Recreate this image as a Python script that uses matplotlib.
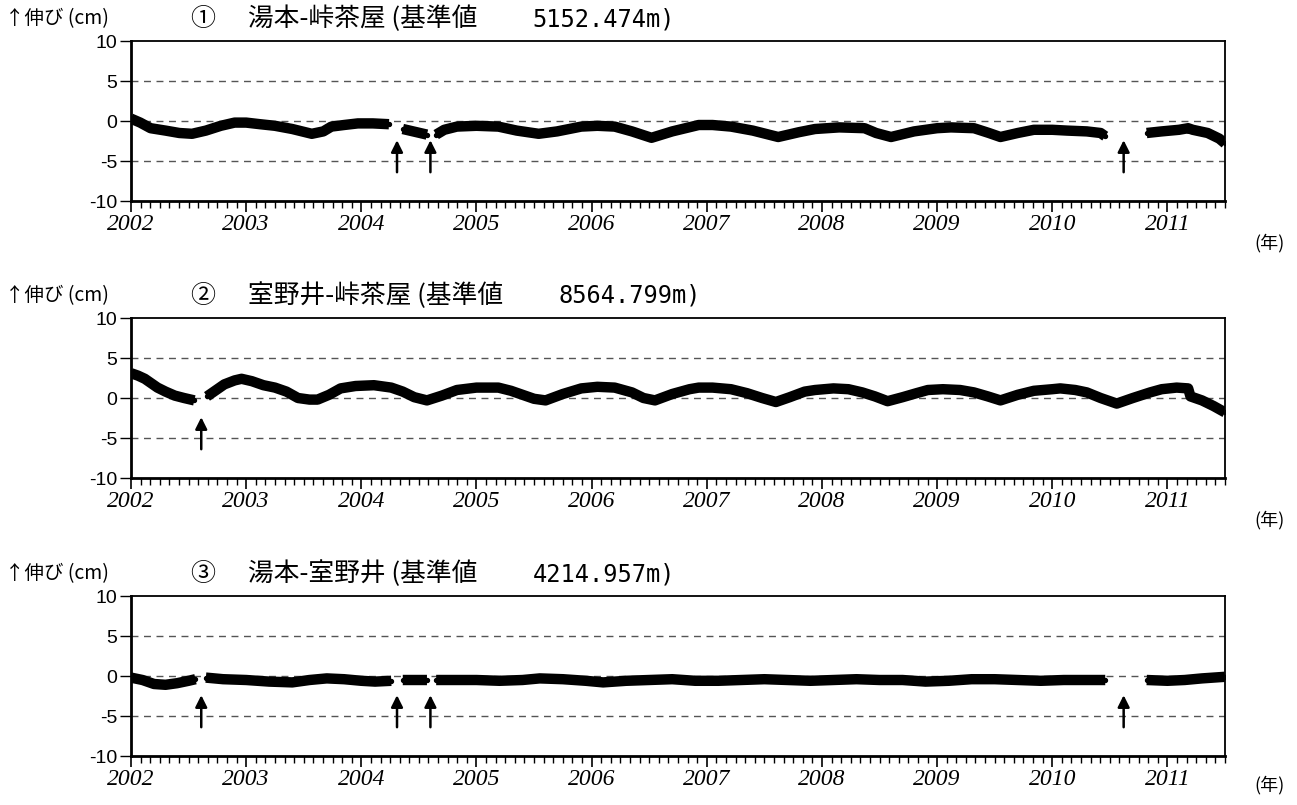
import numpy as np
import matplotlib
matplotlib.use("Agg")
import matplotlib.pyplot as plt
from matplotlib.ticker import MultipleLocator, FixedLocator

nan = np.nan

title_nums = ["①", "②", "③"]
title_names = ["湯本-峠茶屋 (基準値", "室野井-峠茶屋 (基準値", "湯本-室野井 (基準値"]
title_vals = ["5152.474m)", "8564.799m)", "4214.957m)"]
ylabel = "↑伸び (cm)"
xunit = "(年)"
year_ticks = list(range(2002, 2012))
y_ticks = [10, 5, 0, -5, -10]

t1 = [2002.00, 2002.08, 2002.17, 2002.30, 2002.42, 2002.53, 2002.65, 2002.78, 2002.90, 2003.00,
      2003.12, 2003.25, 2003.40, 2003.57, 2003.67, 2003.74, 2003.85, 2003.97, 2004.10, 2004.24,
      2004.30, 2004.36, 2004.45, 2004.57, 2004.61, 2004.65, 2004.72, 2004.83, 2005.00, 2005.19,
      2005.35, 2005.54, 2005.70, 2005.91, 2006.05, 2006.20, 2006.35, 2006.52, 2006.70, 2006.93,
      2007.05, 2007.21, 2007.40, 2007.62, 2007.80, 2007.94, 2008.15, 2008.37, 2008.47, 2008.60,
      2008.80, 2009.00, 2009.12, 2009.32, 2009.45, 2009.55, 2009.70, 2009.84, 2010.00, 2010.13,
      2010.30, 2010.42, 2010.46, 2010.60, 2010.82, 2010.95, 2011.10, 2011.18, 2011.22, 2011.35,
      2011.45, 2011.50]
v1 = [0.3, -0.2, -0.9, -1.2, -1.5, -1.6, -1.2, -0.6, -0.2, -0.2,
      -0.4, -0.6, -1.0, -1.6, -1.3, -0.7, -0.5, -0.3, -0.3, -0.4,
      nan, -1.0, -1.3, -1.7, nan, -1.7, -1.1, -0.7, -0.6, -0.7,
      -1.2, -1.6, -1.3, -0.7, -0.6, -0.7, -1.3, -2.1, -1.3, -0.5,
      -0.5, -0.7, -1.2, -2.0, -1.4, -1.0, -0.8, -0.9, -1.5, -2.0,
      -1.3, -0.9, -0.8, -0.9, -1.5, -2.0, -1.5, -1.1, -1.1, -1.2,
      -1.3, -1.5, -1.9, nan, -1.5, -1.3, -1.1, -0.9, -1.1, -1.5,
      -2.2, -2.8]

t2 = [2002.00, 2002.06, 2002.12, 2002.23, 2002.30, 2002.38, 2002.46, 2002.55, 2002.60, 2002.66,
      2002.72, 2002.81, 2002.90, 2002.96, 2003.05, 2003.15, 2003.25, 2003.35, 2003.45, 2003.55,
      2003.62, 2003.72, 2003.82, 2003.95, 2004.11, 2004.26, 2004.36, 2004.46, 2004.57, 2004.70,
      2004.83, 2005.00, 2005.19, 2005.30, 2005.40, 2005.50, 2005.60, 2005.75, 2005.91, 2006.05,
      2006.20, 2006.35, 2006.45, 2006.55, 2006.70, 2006.85, 2006.93, 2007.05, 2007.21, 2007.35,
      2007.48, 2007.60, 2007.72, 2007.85, 2007.94, 2008.10, 2008.23, 2008.35, 2008.46, 2008.57,
      2008.70, 2008.82, 2008.92, 2009.05, 2009.20, 2009.32, 2009.44, 2009.55, 2009.70, 2009.84,
      2010.00, 2010.07, 2010.20, 2010.30, 2010.42, 2010.56, 2010.70, 2010.85, 2010.95, 2011.08,
      2011.18, 2011.20, 2011.30, 2011.40, 2011.50]
v2 = [3.1, 2.8, 2.4, 1.3, 0.8, 0.3, 0.0, -0.3, nan, 0.2,
      0.8, 1.7, 2.2, 2.4, 2.1, 1.6, 1.3, 0.8, 0.0, -0.2,
      -0.2, 0.4, 1.2, 1.5, 1.6, 1.3, 0.8, 0.1, -0.3, 0.3,
      1.0, 1.3, 1.3, 0.9, 0.4, -0.1, -0.3, 0.5, 1.2, 1.4,
      1.3, 0.7, 0.0, -0.3, 0.5, 1.1, 1.3, 1.3, 1.1, 0.6,
      0.0, -0.5, 0.1, 0.8, 1.0, 1.2, 1.1, 0.7, 0.2, -0.4,
      0.1, 0.6, 1.0, 1.1, 1.0, 0.7, 0.2, -0.3, 0.4, 0.9,
      1.1, 1.2, 1.0, 0.7, 0.0, -0.7, 0.0, 0.7, 1.1, 1.3,
      1.2, 0.2, -0.3, -1.0, -1.8]

t3 = [2002.00, 2002.10, 2002.20, 2002.30, 2002.40, 2002.50, 2002.56, 2002.60, 2002.65, 2002.80,
      2003.00, 2003.20, 2003.40, 2003.55, 2003.70, 2003.85, 2004.00, 2004.12, 2004.26, 2004.30,
      2004.36, 2004.57, 2004.61, 2004.65, 2004.85, 2005.00, 2005.20, 2005.40, 2005.55, 2005.75,
      2005.95, 2006.10, 2006.30, 2006.50, 2006.70, 2006.90, 2007.10, 2007.30, 2007.50, 2007.70,
      2007.90, 2008.10, 2008.30, 2008.50, 2008.70, 2008.90, 2009.10, 2009.30, 2009.50, 2009.70,
      2009.90, 2010.10, 2010.30, 2010.46, 2010.60, 2010.82, 2011.00, 2011.15, 2011.30, 2011.50]
v3 = [-0.2, -0.5, -1.0, -1.1, -0.9, -0.6, -0.4, nan, -0.2, -0.4,
      -0.5, -0.7, -0.8, -0.5, -0.3, -0.4, -0.6, -0.7, -0.6, nan,
      -0.5, -0.5, nan, -0.5, -0.5, -0.5, -0.6, -0.5, -0.3, -0.4,
      -0.6, -0.8, -0.6, -0.5, -0.4, -0.6, -0.6, -0.5, -0.4, -0.5,
      -0.6, -0.5, -0.4, -0.5, -0.5, -0.7, -0.6, -0.4, -0.4, -0.5,
      -0.6, -0.5, -0.5, -0.5, nan, -0.5, -0.6, -0.5, -0.3, -0.1]

arrows1 = [2004.31, 2004.60, 2010.62]
arrows2 = [2002.61]
arrows3 = [2002.61, 2004.31, 2004.60, 2010.62]

series = [(t1, v1, arrows1), (t2, v2, arrows2), (t3, v3, arrows3)]

cjk = ['Noto Sans CJK JP', 'DejaVu Sans']

fig = plt.figure(figsize=(12.97, 8.05), dpi=100)
W, H = 1297, 805
left, right = 131, 1225
tops = [41, 318, 596]
unit_y = [243, 520, 785]
ph = 160
renderer = fig.canvas.get_renderer()

for i, (t, v, arr) in enumerate(series):
    top = tops[i]
    ax = fig.add_axes([left / W, 1 - (top + ph) / H, (right - left) / W, ph / H])
    ax.set_xlim(2002.0, 2011.5)
    ax.set_ylim(-10, 10)
    for yy in [5, 0, -5]:
        ax.axhline(yy, color='#555555', lw=1.0, ls=(0, (5, 4)), zorder=1)
    ax.plot(t, v, color='black', lw=7.5, solid_capstyle='butt', zorder=3)
    ax.scatter(t, v, s=8, color='black', zorder=3)
    for a in arr:
        ax.annotate('', xy=(a, -2.4), xytext=(a, -6.4),
                    arrowprops=dict(arrowstyle='-|>,head_length=0.7,head_width=0.35',
                                    color='black', lw=1.8, shrinkA=0, shrinkB=0),
                    zorder=4)
    ax.set_yticks(y_ticks)
    ax.set_yticklabels([str(y) for y in y_ticks], fontsize=14, family='Liberation Sans')
    ax.xaxis.set_major_locator(FixedLocator(year_ticks))
    ax.xaxis.set_minor_locator(MultipleLocator(1 / 12))
    ax.set_xticklabels([str(y) for y in year_ticks], fontsize=17,
                       family='Liberation Serif', style='italic')
    ax.tick_params(axis='x', which='major', length=8, width=1.2, direction='out', pad=1)
    ax.tick_params(axis='x', which='minor', length=5, width=1.0, direction='out')
    ax.tick_params(axis='y', length=8, width=1.0, direction='out', pad=2)
    for s in ax.spines.values():
        s.set_linewidth(1.3)
    ax.spines['left'].set_linewidth(2.0)
    ax.spines['bottom'].set_linewidth(2.0)

    ty = 1 - (top - 22) / H
    fig.text(5 / W, ty, ylabel, fontsize=14, family=cjk, va='center', ha='left')
    fig.text(190 / W, ty, title_nums[i], fontsize=18, family=cjk, va='center', ha='left')
    nm = fig.text(248 / W, ty, title_names[i], fontsize=18.5, family=cjk, va='center', ha='left')
    ext = nm.get_window_extent(renderer)
    fig.text((ext.x1 + 55) / W, ty, title_vals[i], fontsize=17, family='DejaVu Sans Mono',
             va='center', ha='left')
    fig.text(1285 / W, 1 - unit_y[i] / H, xunit, fontsize=13, family=cjk, va='center', ha='right')

fig.savefig('out.png', dpi=100)
